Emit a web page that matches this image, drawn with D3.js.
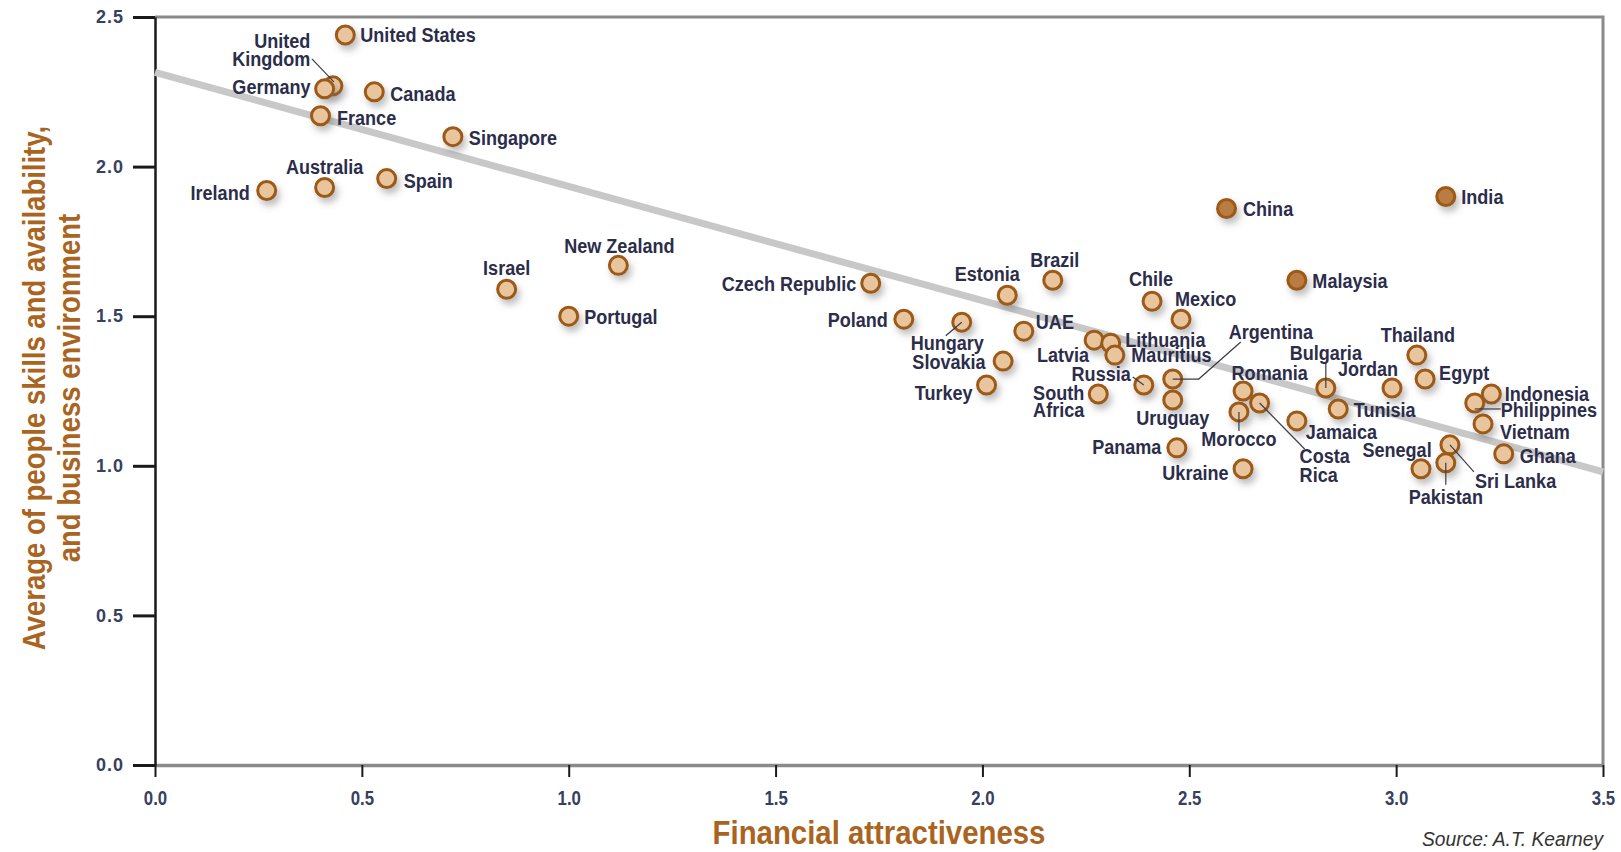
<!DOCTYPE html>
<html>
<head>
<meta charset="utf-8">
<script src="https://cdn.jsdelivr.net/npm/d3@7/dist/d3.min.js"></script>
<style>
  html, body { margin: 0; padding: 0; background: #fff; }
  svg { display: block; font-family: 'Liberation Sans', Arial, sans-serif; }
</style>
</head>
<body>
<svg id="chart" width="1621" height="852"></svg>
<script>
// Country names
const countries = [
  "United States", "United Kingdom", "Germany", "Canada", "France", "Singapore",
  "Australia", "Ireland", "Spain", "Israel", "New Zealand", "Portugal",
  "Czech Republic", "Poland", "Hungary", "Slovakia", "Turkey", "Estonia",
  "Brazil", "UAE", "Latvia", "Lithuania", "Mauritius", "Russia",
  "South Africa", "Argentina", "Uruguay", "Panama", "Ukraine", "Chile",
  "Mexico", "China", "India", "Malaysia", "Romania", "Morocco",
  "Costa Rica", "Jamaica", "Bulgaria", "Tunisia", "Jordan", "Thailand",
  "Egypt", "Indonesia", "Philippines", "Vietnam", "Ghana", "Sri Lanka",
  "Pakistan", "Senegal"
];

// Financial attractiveness score
const financial = [
  0.46, 0.43, 0.41, 0.53, 0.40, 0.72,
  0.41, 0.27, 0.56, 0.85, 1.12, 1.00,
  1.73, 1.81, 1.95, 2.05, 2.01, 2.06,
  2.17, 2.10, 2.27, 2.31, 2.32, 2.39,
  2.28, 2.46, 2.46, 2.47, 2.63, 2.41,
  2.48, 2.59, 3.12, 2.76, 2.63, 2.62,
  2.67, 2.76, 2.83, 2.86, 2.99, 3.05,
  3.07, 3.23, 3.19, 3.21, 3.26, 3.13,
  3.12, 3.06
];

// Average of people skills and availability, and business environment
const peopleBusiness = [
  2.44, 2.27, 2.26, 2.25, 2.17, 2.10,
  1.93, 1.92, 1.96, 1.59, 1.67, 1.50,
  1.61, 1.49, 1.48, 1.35, 1.27, 1.57,
  1.62, 1.45, 1.42, 1.41, 1.37, 1.27,
  1.24, 1.29, 1.22, 1.06, 0.99, 1.55,
  1.49, 1.86, 1.90, 1.62, 1.25, 1.18,
  1.21, 1.15, 1.26, 1.19, 1.26, 1.37,
  1.29, 1.24, 1.21, 1.14, 1.04, 1.07,
  1.01, 0.99
];

// Countries drawn with a darker marker
const highlighted = ["China", "India", "Malaysia"];

// Trend line: value at financial = 0 and at financial = 3.5
const trendX = [0, 3.5];
const trendY = [2.315, 0.98];

const xTicks = [0, 0.5, 1.0, 1.5, 2.0, 2.5, 3.0, 3.5];
const yTicks = [0, 0.5, 1.0, 1.5, 2.0, 2.5];

const xTitle = "Financial attractiveness";
const yTitleLines = ["Average of people skills and availability,", "and business environment"];
const sourceNote = "Source: A.T. Kearney";

// Label placement around each marker: [anchor, dx, dy, lines, leader path]
const labelLayout = {
  "United States": ["start", 15, 0],
  "United Kingdom": ["end", -22.5, -45.5, ["United", "Kingdom"], [[-21, -27], [1, -4]]],
  "Germany": ["end", -14, -2],
  "Canada": ["start", 16, 1.5],
  "France": ["start", 16.5, 1.5],
  "Singapore": ["start", 16, 0.5],
  "Australia": ["middle", 0, -21],
  "Ireland": ["end", -17, 1.5],
  "Spain": ["start", 17, 1.5],
  "Israel": ["middle", 0, -22],
  "New Zealand": ["middle", 1, -20],
  "Portugal": ["start", 15.5, 0],
  "Czech Republic": ["end", -14.5, 0],
  "Poland": ["end", -16, 0],
  "Hungary": ["middle", -14.5, 20.5, null, [[0, 0], [-16, 13.5]]],
  "Slovakia": ["end", -17.5, 0.5],
  "Turkey": ["end", -14, 7],
  "Estonia": ["middle", -20, -22],
  "Brazil": ["middle", 2, -21],
  "UAE": ["start", 12, -10],
  "Latvia": ["end", -5, 14.5],
  "Lithuania": ["start", 14.5, -3.5],
  "Mauritius": ["start", 16.5, -1],
  "Russia": ["end", -13, -11.7, null, [[0, 0], [-11, -8]]],
  "South Africa": ["end", -14, -1.5, ["South", "Africa"]],
  "Argentina": ["start", 56, -48, null, [[0, 0], [26, 0], [68, -37]]],
  "Uruguay": ["middle", 0, 18],
  "Panama": ["end", -15.5, -1],
  "Ukraine": ["end", -14.5, 3.5],
  "Chile": ["middle", -1, -23],
  "Mexico": ["start", -6, -21],
  "China": ["start", 16.5, 0],
  "India": ["start", 15.5, 0],
  "Malaysia": ["start", 15.5, 0],
  "Romania": ["start", -11.5, -18.5],
  "Morocco": ["middle", 0, 27, null, [[0, 0], [0, 19]]],
  "Costa Rica": ["start", 40, 52.7, ["Costa", "Rica"], [[0, 0], [45, 46]]],
  "Jamaica": ["start", 9, 10.7],
  "Bulgaria": ["middle", 0, -36, null, [[0, 0], [0, -26]]],
  "Tunisia": ["start", 15.5, 1],
  "Jordan": ["middle", -24, -19.5],
  "Thailand": ["middle", 1, -21],
  "Egypt": ["start", 14, -7],
  "Indonesia": ["start", 13.5, 0],
  "Philippines": ["start", 26, 6.5, null, [[0, 6], [26, 6]]],
  "Vietnam": ["start", 17, 7.5],
  "Ghana": ["start", 16, 1.5],
  "Sri Lanka": ["start", 25, 35.7, null, [[0, 0], [24, 27]]],
  "Pakistan": ["middle", 0, 34, null, [[0, 0], [0, 22]]],
  "Senegal": ["end", 10.7, -19]
};

const svg = d3.select("#chart");
const plot = { left: 155, right: 1603, top: 17, bottom: 765 };

const x = d3.scaleLinear().domain([0, 3.5]).range([plot.left, plot.right]);
const y = d3.scaleLinear().domain([0, 2.5]).range([plot.bottom, plot.top]);

const labelColor = "#2b2d4a";
const tickColor = "#36405f";
const titleColor = "#a9651f";

// Condensed lettering: text squeezed horizontally about its anchor point
function condensedText(parent, px, py, sx, rows, lh, rotate) {
  const rot = rotate ? ` rotate(${rotate})` : "";
  const t = parent.append("text")
    .attr("transform", `translate(${px},${py})${rot} scale(${sx},1)`);
  rows.forEach((r, k) => {
    t.append("tspan").attr("x", 0).attr("y", k * lh).text(r);
  });
  return t;
}

// Soft shadow under the markers
const defs = svg.append("defs");
const shadow = defs.append("filter").attr("id", "markerShadow")
  .attr("x", "-60%").attr("y", "-60%").attr("width", "240%").attr("height", "240%");
shadow.append("feDropShadow")
  .attr("dx", 3).attr("dy", 5).attr("stdDeviation", 3.5)
  .attr("flood-color", "#6d6d6d").attr("flood-opacity", 0.45);

// Plot frame (top and right edges)
svg.append("path")
  .attr("d", `M${plot.left},${plot.top}H${plot.right}V${plot.bottom}`)
  .attr("fill", "none").attr("stroke", "#8a8a8a").attr("stroke-width", 3);

// Bottom axis
const xAxis = svg.append("g")
  .attr("transform", `translate(0,${plot.bottom})`)
  .call(d3.axisBottom(x).tickValues(xTicks).tickFormat(d3.format(".1f"))
    .tickSize(12).tickPadding(13).tickSizeOuter(0));
xAxis.select(".domain").attr("stroke", "#8a8a8a").attr("stroke-width", 3.5);
xAxis.selectAll(".tick line").attr("stroke", "#1a1a1a").attr("stroke-width", 2);
xAxis.selectAll(".tick text")
  .attr("fill", tickColor)
  .attr("transform", "scale(0.8,1)")
  .style("font-family", "'Liberation Sans', Arial, sans-serif")
  .style("font-weight", "bold")
  .style("font-size", "21px");

// Left axis
const yAxis = svg.append("g")
  .attr("transform", `translate(${plot.left},0)`)
  .call(d3.axisLeft(y).tickValues(yTicks).tickFormat(d3.format(".1f"))
    .tickSize(22).tickPadding(9).tickSizeOuter(0));
yAxis.select(".domain").attr("stroke", "#1a1a1a").attr("stroke-width", 2.5);
yAxis.selectAll(".tick line").attr("stroke", "#1a1a1a").attr("stroke-width", 3);
yAxis.selectAll(".tick text")
  .attr("fill", tickColor)
  .style("font-family", "'Liberation Sans', Arial, sans-serif")
  .style("font-weight", "bold")
  .style("font-size", "18px")
  .style("letter-spacing", "1px");

// Trend line
svg.append("line")
  .attr("x1", x(trendX[0])).attr("y1", y(trendY[0]))
  .attr("x2", x(trendX[1])).attr("y2", y(trendY[1]))
  .attr("stroke", "#c8c8c8").attr("stroke-width", 7);

const points = countries.map((name, i) => ({
  name, fx: financial[i], py: peopleBusiness[i],
  dark: highlighted.includes(name),
  layout: labelLayout[name]
}));

// Markers
svg.append("g").selectAll("circle")
  .data(points).join("circle")
  .attr("cx", d => x(d.fx)).attr("cy", d => y(d.py))
  .attr("r", 9)
  .attr("fill", d => d.dark ? "#b97c42" : "#e9c59e")
  .attr("stroke", "#9c5a16").attr("stroke-width", 3)
  .attr("filter", "url(#markerShadow)");

// Leader lines
const line = d3.line();
svg.append("g").selectAll("path")
  .data(points.filter(d => d.layout && d.layout[4])).join("path")
  .attr("d", d => line(d.layout[4].map(p => [x(d.fx) + p[0], y(d.py) + p[1]])))
  .attr("fill", "none").attr("stroke", "#3c3c44").attr("stroke-width", 1.2);

// Country labels
const labels = svg.append("g")
  .style("font-size", "21px").style("font-weight", "bold")
  .attr("fill", labelColor);
points.forEach(d => {
  const [anchor, dx, dy, lines] = d.layout;
  const lh = d.name === "South Africa" ? 17 : 18.5;
  condensedText(labels, x(d.fx) + dx, y(d.py) + dy, 0.86, lines || [d.name], lh)
    .attr("text-anchor", anchor)
    .attr("dominant-baseline", "central");
});

// Axis titles
condensedText(svg, 879, 844, 0.89, [xTitle], 0)
  .attr("text-anchor", "middle")
  .attr("fill", titleColor)
  .style("font-size", "33px").style("font-weight", "bold");

condensedText(svg, 45, 388, 0.86, yTitleLines, 35, -90)
  .attr("text-anchor", "middle")
  .attr("fill", titleColor)
  .style("font-size", "32px").style("font-weight", "bold");

// Source note
condensedText(svg, plot.right, 846, 0.96, [sourceNote], 0)
  .attr("text-anchor", "end")
  .attr("fill", "#333")
  .style("font-size", "20px").style("font-style", "italic");
</script>
</body>
</html>
